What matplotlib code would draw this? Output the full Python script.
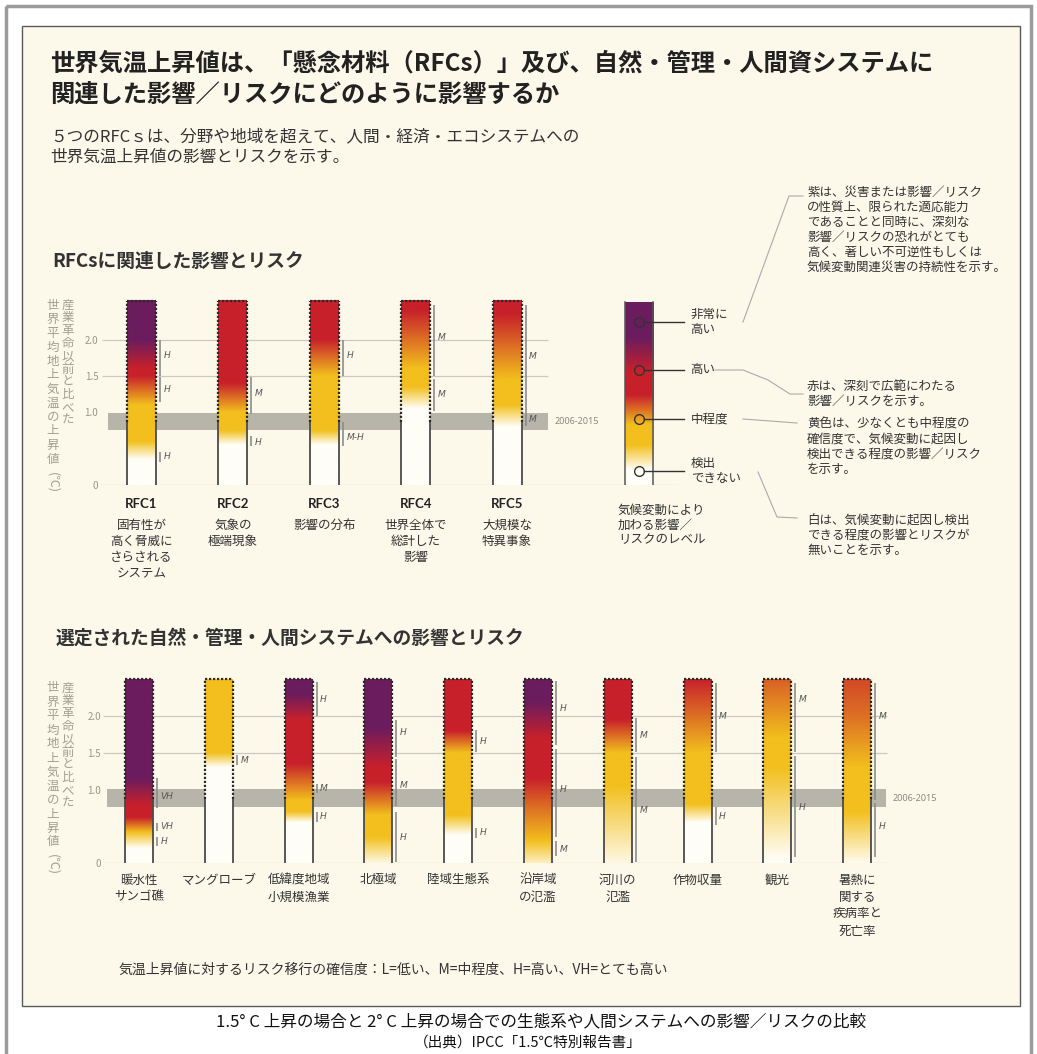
import numpy as np
import matplotlib.pyplot as plt
from matplotlib.colors import LinearSegmentedColormap
from matplotlib.patches import Rectangle
import matplotlib.transforms as mtransforms

plt.rcParams['font.family'] = ['Noto Sans CJK JP', 'DejaVu Sans']

# ---- data -------------------------------------------------------------
# risk level: 0 = undetectable (white), 1 = moderate (yellow), 2 = high (red), 3 = very high (purple)
rfc_names = ['RFC1', 'RFC2', 'RFC3', 'RFC4', 'RFC5']
rfc_desc = ['固有性が\n高く脅威に\nさらされる\nシステム', '気象の\n極端現象', '影響の分布',
            '世界全体で\n総計した\n影響', '大規模な\n特異事象']
rfc_temps = [
    [0, 0.35, 0.6, 1.1, 1.5, 1.6, 2.0, 2.55],
    [0, 0.55, 0.75, 1.0, 1.4, 2.55],
    [0, 0.55, 0.75, 1.5, 2.0, 2.55],
    [0, 1.05, 1.35, 1.6, 2.4, 2.55],
    [0, 0.8, 1.1, 1.45, 2.35, 2.55],
]
rfc_levels = [
    [0, 0, 1, 1, 2, 2, 3, 3],
    [0, 0, 1, 1, 2, 2],
    [0, 0, 1, 1, 2, 2],
    [0, 0, 1, 1, 2, 2],
    [0, 0, 1, 1, 2, 2],
]
# confidence: (from, to, label position, label)
rfc_conf = [
    [(1.5, 2.0, 1.79, 'H'), (1.14, 1.49, 1.32, 'H'), (0.32, 0.45, 0.39, 'H')],
    [(0.98, 1.49, 1.26, 'M'), (0.54, 0.68, 0.59, 'H')],
    [(1.5, 2.0, 1.78, 'H'), (0.54, 0.87, 0.66, 'M-H')],
    [(1.5, 2.48, 2.03, 'M'), (1.02, 1.46, 1.25, 'M')],
    [(1.0, 2.48, 1.77, 'M'), (0.81, 0.99, 0.91, 'M')],
]

legend_temps = [0, 0.21, 0.55, 0.83, 1.24, 1.56, 2.04, 2.52]
legend_levels = [0, 0, 1, 1, 2, 2, 3, 3]
legend_marks = [2.25, 1.59, 0.91, 0.19]
legend_labels = ['非常に\n高い', '高い', '中程度', '検出\nできない']

sys_names = ['暖水性\nサンゴ礁', 'マングローブ', '低緯度地域\n小規模漁業', '北極域', '陸域生態系',
             '沿岸域\nの氾濫', '河川の\n氾濫', '作物収量', '観光', '暑熱に\n関する\n疾病率と\n死亡率']
sys_temps = [
    [0, 0.2, 0.42, 0.62, 0.78, 1.15, 2.5],
    [0, 1.3, 1.5, 2.5],
    [0, 0.55, 0.7, 0.85, 1.35, 1.95, 2.3, 2.5],
    [0, 0.35, 0.65, 1.1, 1.3, 1.85, 2.5],
    [0, 0.38, 0.65, 1.5, 1.8, 2.5],
    [0, 0.3, 0.75, 1.15, 1.7, 2.2, 2.5],
    [0, 1.05, 1.5, 1.95, 2.5],
    [0, 0.55, 0.8, 1.5, 2.5],
    [0, 0.1, 1.3, 1.7, 2.5],
    [0, 0.7, 1.3, 2.0, 2.5],
]
sys_levels = [
    [0, 0, 1, 2, 2, 3, 3],
    [0, 0, 1, 1],
    [0, 0, 1, 1, 2, 2, 3, 3],
    [0.1, 1, 1, 2, 2, 3, 3],
    [0, 0, 1, 1, 2, 2],
    [0.25, 1, 1.5, 2, 2, 3, 3],
    [0.1, 1, 1, 2, 2],
    [0, 0, 1, 1, 2],
    [0, 0.05, 1, 1, 1.6],
    [0.05, 1, 1, 1.5, 1.75],
]
sys_conf = [
    [(0.75, 1.16, 0.9, 'VH'), (0.44, 0.54, 0.49, 'VH'), (0.23, 0.35, 0.29, 'H')],
    [(1.33, 1.47, 1.4, 'M')],
    [(2.0, 2.46, 2.22, 'H'), (0.95, 1.08, 1.02, 'M'), (0.56, 0.7, 0.63, 'H')],
    [(1.44, 1.95, 1.77, 'H'), (0.77, 1.42, 1.06, 'M'), (0.01, 0.7, 0.35, 'H')],
    [(1.51, 1.81, 1.65, 'H'), (0.34, 0.48, 0.41, 'H')],
    [(1.6, 2.48, 2.1, 'H'), (0.35, 1.55, 1.0, 'H'), (0.1, 0.3, 0.19, 'M')],
    [(1.51, 1.97, 1.74, 'M'), (0.02, 1.44, 0.72, 'M')],
    [(1.51, 2.45, 1.99, 'M'), (0.52, 0.76, 0.63, 'H')],
    [(1.51, 2.45, 2.22, 'M'), (0.08, 1.45, 0.75, 'H')],
    [(0.86, 2.45, 1.99, 'M'), (0.08, 0.82, 0.49, 'H')],
]

ticks = [0, 1.0, 1.5, 2.0]
tick_labels = ['0', '1.0', '1.5', '2.0']
band = (0.76, 1.0)      # 2006-2015
solid_below = 0.87

# ---- style -------------------------------------------------------------
cream = '#fcf9eb'
cmap = LinearSegmentedColormap.from_list(
    'risk', [(0, '#fffef7'), (1 / 3, '#f2bf1d'), (2 / 3, '#c8212b'), (1, '#6b1c5e')])
gray_txt = '#a39f92'
grid_c = '#cdc9bd'
band_c = '#b7b4a9'
bold_latin = ['Lato', 'DejaVu Sans']

W, H = 1037, 1054
fig = plt.figure(figsize=(W / 100, H / 100), dpi=100)
fig.patch.set_facecolor('white')

bg = fig.add_axes([0, 0, 1, 1], zorder=-5)
bg.set_xlim(0, W)
bg.set_ylim(H, 0)
bg.axis('off')
bg.add_patch(Rectangle((6, 6), W - 12, H + 20, fill=False, ec='#9c9c9c', lw=2.5))
bg.add_patch(Rectangle((22, 26), 998, 980, fc=cream, ec='#5a5a5a', lw=1))

bg.text(50, 64, '世界気温上昇値は、「懸念材料（RFCs）」及び、自然・管理・人間資システムに',
        fontsize=17.5, fontweight='bold', color='#222', va='center')
bg.text(50, 95, '関連した影響／リスクにどのように影響するか',
        fontsize=17.5, fontweight='bold', color='#222', va='center')
bg.text(50, 137, '５つのRFCｓは、分野や地域を超えて、人間・経済・エコシステムへの',
        fontsize=12, color='#333', va='center')
bg.text(50, 157, '世界気温上昇値の影響とリスクを示す。', fontsize=12, color='#333', va='center')
bg.text(52, 261, 'RFCsに関連した影響とリスク', fontsize=13.5, fontweight='bold', color='#333', va='center')
bg.text(56, 638, '選定された自然・管理・人間システムへの影響とリスク', fontsize=13.5,
        fontweight='bold', color='#333', va='center')


def vertical_label(y0):
    col1 = '世界平均地上気温の上昇値'
    col2 = '産業革命以前と比べた'
    for k, ch in enumerate(col2):
        bg.text(68, y0 + k * 12.8, ch, fontsize=9, color=gray_txt, ha='center', va='center')
    for k, ch in enumerate(col1):
        bg.text(53, y0 + k * 14, ch, fontsize=9, color=gray_txt, ha='center', va='center')
    bg.text(53, y0 + len(col1) * 14 + 9, '(℃)', fontsize=9, color=gray_txt,
            ha='center', va='center', rotation=270)


vertical_label(305)
vertical_label(688)


def draw_bar(ax, x, w, temps, levels, top, outline=True):
    grid = np.linspace(0, top, 400)
    lv = np.interp(grid, temps, levels)
    ax.imshow(lv[:, None], extent=[x - w / 2, x + w / 2, 0, top], origin='lower', cmap=cmap,
              vmin=0, vmax=3, aspect='auto', interpolation='bilinear', zorder=3)
    if not outline:
        return
    for xs in (x - w / 2, x + w / 2):
        ax.plot([xs, xs], [0, solid_below], color='#4a4a4a', lw=1.3, zorder=4, solid_capstyle='butt')
        ax.plot([xs, xs], [solid_below, top], color='#2a2a2a', lw=1.6, ls=(0, (1, 0.8)), zorder=4)
    ax.plot([x - w / 2, x + w / 2], [top, top], color='#2a2a2a', lw=1.6, ls=(0, (1, 0.8)), zorder=4)


def draw_conf(ax, x, dx, conf):
    for lo, hi, ly, lab in conf:
        ax.plot([x + dx, x + dx], [lo, hi], color='#8c8c8c', lw=1.2, zorder=4, solid_capstyle='butt')
        ax.text(x + dx * 1.9, ly, lab, fontsize=6.5, style='italic', color='#555',
                family='DejaVu Sans', va='center', ha='left', zorder=5)


def setup_axes(ax, xlim, ylim):
    ax.set_xlim(*xlim)
    ax.set_ylim(*ylim)
    ax.patch.set_alpha(0)
    for s in ax.spines.values():
        s.set_visible(False)
    ax.set_xticks([])
    ax.set_yticks(ticks)
    ax.set_yticklabels(tick_labels)
    ax.tick_params(axis='y', length=0, pad=1.5, labelsize=7, labelcolor='#9a968a')


# ---- top chart: RFCs -------------------------------------------------------
px1, sx1, zero1, sy1 = 141.5, 91.4, 485, 72.5
xl1, yl1 = (-0.45, 5.9), (0, 2.6)
ax1 = fig.add_axes([(px1 + xl1[0] * sx1) / W, 1 - zero1 / H,
                    (xl1[1] - xl1[0]) * sx1 / W, yl1[1] * sy1 / H])
w1 = 29 / sx1
ax1.hlines([1.5, 2.0], -0.43, 4.45, color=grid_c, lw=0.9, zorder=1)
ax1.hlines(0, -0.43, 5.86, color=grid_c, lw=0.9, zorder=1)
ax1.fill_between([-0.37, 4.45], band[0], band[1], color=band_c, lw=0, zorder=2)
ax1.text(4.52, (band[0] + band[1]) / 2, '2006-2015', fontsize=6.5, color='#8a877d',
         family='Noto Sans', va='center')
for i in range(len(rfc_names)):
    draw_bar(ax1, i, w1, rfc_temps[i], rfc_levels[i], 2.54)
    draw_conf(ax1, i + w1 / 2, 4 / sx1, rfc_conf[i])

trans1 = mtransforms.blended_transform_factory(ax1.transData, bg.transData)
for i in range(len(rfc_names)):
    bg.text(i, 504, rfc_names[i], transform=trans1, fontsize=9.5, fontweight='bold',
            family=bold_latin, color='#222', ha='center', va='center')
    for k, s in enumerate(rfc_desc[i].split('\n')):
        bg.text(i, 525 + k * 16.3, s, transform=trans1, fontsize=9, color='#333',
                ha='center', va='center')

# legend strip
lx = 5.44
draw_bar(ax1, lx, 28 / sx1, legend_temps, legend_levels, 2.52, outline=False)
for xs in (lx - 14 / sx1, lx + 14 / sx1):
    ax1.plot([xs, xs], [0, 2.52], color='#555', lw=1.1, zorder=4)
ax1.plot([lx] * 4, legend_marks, 'o', ms=7, mfc='none', mec='#333', mew=1, zorder=5)
for ym, lab in zip(legend_marks, legend_labels):
    ax1.plot([lx + 5 / sx1, lx + 45 / sx1], [ym, ym], color='#333', lw=1, zorder=5, clip_on=False)
    n = lab.count('\n') + 1
    for k, s in enumerate(lab.split('\n')):
        yy = zero1 - ym * sy1 + (k - (n - 1) / 2) * 15
        bg.text(lx + 52 / sx1, yy, s, transform=trans1, fontsize=9, color='#333', va='center')
for k, s in enumerate(['気候変動により', '加わる影響／', 'リスクのレベル']):
    bg.text(618, 510 + k * 14.8, s, fontsize=9, color='#333', va='center')

# explanations on the right
notes = [
    (192, ['紫は、災害または影響／リスク', 'の性質上、限られた適応能力', 'であることと同時に、深刻な',
           '影響／リスクの恐れがとても', '高く、著しい不可逆性もしくは', '気候変動関連災害の持続性を示す。']),
    (386, ['赤は、深刻で広範にわたる', '影響／リスクを示す。']),
    (424, ['黄色は、少なくとも中程度の', '確信度で、気候変動に起因し', '検出できる程度の影響／リスク', 'を示す。']),
    (520, ['白は、気候変動に起因し検出', 'できる程度の影響とリスクが', '無いことを示す。']),
]
for y0, lines in notes:
    for k, s in enumerate(lines):
        bg.text(807, y0 + k * 15, s, fontsize=9, color='#333', va='center')
leaders = [
    ([743, 789, 803], [322, 196, 196]),
    ([715, 743, 768, 790, 803], [370, 370, 380, 394, 394]),
    ([743, 797], [419, 423]),
    ([758, 777, 797], [472, 517, 518]),
]
for xs, ys in leaders:
    bg.plot(xs, ys, color='#aaa', lw=0.8)

setup_axes(ax1, xl1, yl1)

# ---- bottom chart: systems ----------------------------------------------------
px2, sx2, zero2, sy2 = 139, 79.8, 863, 73.5
xl2, yl2 = (-0.45, 9.4), (0, 2.6)
ax2 = fig.add_axes([(px2 + xl2[0] * sx2) / W, 1 - zero2 / H,
                    (xl2[1] - xl2[0]) * sx2 / W, yl2[1] * sy2 / H])
w2 = 28 / sx2
ax2.hlines([0, 1.5, 2.0], -0.45, 9.37, color=grid_c, lw=0.9, zorder=1)
ax2.fill_between([-0.4, 9.36], band[0], band[1], color=band_c, lw=0, zorder=2)
ax2.text(9.44, (band[0] + band[1]) / 2, '2006-2015', fontsize=6.5, color='#8a877d',
         family='Noto Sans', va='center')
for i in range(len(sys_names)):
    draw_bar(ax2, i, w2, sys_temps[i], sys_levels[i], 2.5)
    draw_conf(ax2, i + w2 / 2, 4 / sx2, sys_conf[i])

trans2 = mtransforms.blended_transform_factory(ax2.transData, bg.transData)
for i in range(len(sys_names)):
    for k, s in enumerate(sys_names[i].split('\n')):
        bg.text(i, 880 + k * 17, s, transform=trans2, fontsize=9, color='#333',
                ha='center', va='center')
setup_axes(ax2, xl2, yl2)

bg.text(118, 970, '気温上昇値に対するリスク移行の確信度：L=低い、M=中程度、H=高い、VH=とても高い',
        fontsize=10, color='#333', va='center')

bg.text(541, 1022, '1.5° C 上昇の場合と 2° C 上昇の場合での生態系や人間システムへの影響／リスクの比較',
        fontsize=12, color='#111', ha='center', va='center')
bg.text(528, 1043, '（出典）IPCC「1.5℃特別報告書」', fontsize=10.5, color='#111',
        ha='center', va='center')

fig.savefig('out.png', dpi=100, facecolor='white')
